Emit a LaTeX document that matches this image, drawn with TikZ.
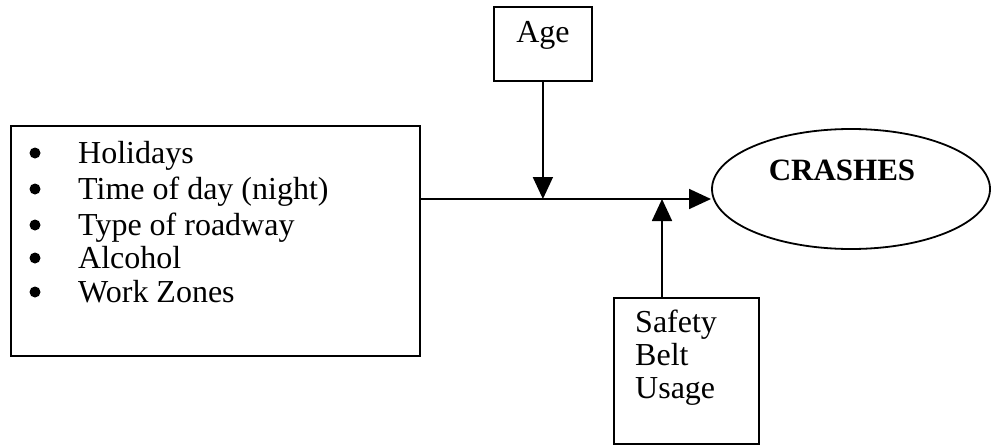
\documentclass[tikz,border=0pt]{standalone}
\usepackage{fontspec}
\setmainfont{Liberation Serif}
\usetikzlibrary{arrows.meta,shapes.geometric}
\begin{document}
\begin{tikzpicture}[x=1pt,y=-1pt,
  box/.style={draw, line width=1.8pt, inner sep=0pt, anchor=north west},
  lbl/.style={anchor=base west, inner sep=0pt, font=\fontsize{32}{35}\selectfont},
  dot/.style={circle, fill, inner sep=0pt, minimum size=11pt},
  conn/.style={line width=1.8pt, -{Triangle[length=22pt,width=20pt]}}]
\useasboundingbox (0,0) rectangle (992,444);
% left box with factors
\node[box, minimum width=409pt, minimum height=230pt] (factors) at (10,125) {};
\node[dot] (b1) at (35,153) {};
\node[dot] (b2) at (35,189) {};
\node[dot] (b3) at (35,225) {};
\node[dot] (b4) at (35,258) {};
\node[dot] (b5) at (35,292) {};
\node[lbl] (t1) at (78,163) {Holidays};
\node[lbl] (t2) at (78,199) {Time of day (night)};
\node[lbl] (t3) at (78,235) {Type of roadway};
\node[lbl] (t4) at (78,268) {Alcohol};
\node[lbl] (t5) at (78,302) {Work Zones};
% age box
\node[box, minimum width=98pt, minimum height=74pt] (age) at (493,6) {};
\node[lbl, anchor=base] (agetxt) at (age.north |- 0,42) {Age};
% safety belt box
\node[box, minimum width=145pt, minimum height=146pt] (belt) at (613,297) {};
\node[lbl] (s1) at (635,332) {Safety};
\node[lbl] (s2) at (635,365) {Belt};
\node[lbl] (s3) at (635,398) {Usage};
% outcome ellipse
\node[draw, ellipse, line width=1.8pt, inner sep=0pt, minimum width=278pt, minimum height=120pt] (crashes) at (851,189) {};
\node[anchor=base, inner sep=0pt, font=\fontsize{31}{35}\selectfont\bfseries] (crtxt) at (842,180) {CRASHES};
% connectors
\coordinate (hit) at (711,199);
\draw[conn] (factors.north east |- hit) -- (hit);
\draw[conn] (age.south) -- (age.south |- hit);
\draw[conn] ([xshift=49pt]belt.north west) -- ([xshift=49pt]belt.north west |- hit);
\end{tikzpicture}
\end{document}
